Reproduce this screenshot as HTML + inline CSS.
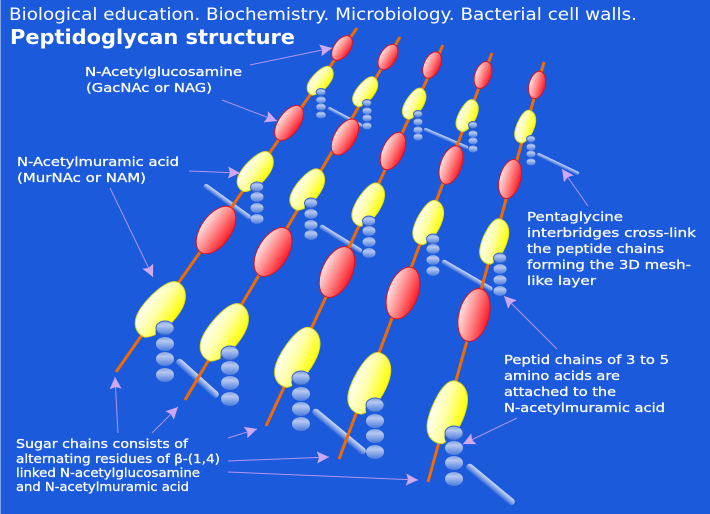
<!DOCTYPE html>
<html><head><meta charset="utf-8"><title>Peptidoglycan structure</title>
<style>
html,body{margin:0;padding:0;background:#1c5adc}
svg{display:block}
text{font-family:"DejaVu Sans","Liberation Sans",sans-serif;fill:#fff;stroke:#fff;stroke-width:.25px;font-size:12px}
.c{stroke:#f26a00;stroke-width:3;fill:none}
.y{fill:url(#gy);stroke:#dede20;stroke-width:1;vector-effect:non-scaling-stroke}
.r{fill:url(#gr);stroke:#e0101c;stroke-width:1}
.b{fill:url(#gb)}
.f{fill:url(#gb);stroke:#3566c8;stroke-width:1}
.n{fill:#1c5adc}
.a{stroke:#b394ec;stroke-width:1;fill:none;marker-end:url(#ah)}
.p{fill:url(#gp)}
</style></head><body>
<svg width="710" height="514" viewBox="0 0 710 514" xmlns="http://www.w3.org/2000/svg">
<defs>
<linearGradient id="gy" x1="0" y1="0" x2="1" y2="0"><stop offset="0" stop-color="#fffff2"/><stop offset=".45" stop-color="#ffffa8"/><stop offset="1" stop-color="#ffff00"/></linearGradient>
<linearGradient id="gr" x1="0" y1="0" x2="1" y2="0"><stop offset="0" stop-color="#ffe4e4"/><stop offset=".5" stop-color="#ff8484"/><stop offset="1" stop-color="#fa1c28"/></linearGradient>
<linearGradient id="gb" x1="0" y1="0" x2="0" y2="1"><stop offset="0" stop-color="#7f9fe2"/><stop offset=".3" stop-color="#b6c8f0"/><stop offset="1" stop-color="#4a7adc"/></linearGradient>
<linearGradient id="gp" x1="0" y1="0" x2="0" y2="1"><stop offset="0" stop-color="#d0dcf6"/><stop offset=".5" stop-color="#86a4e6"/><stop offset="1" stop-color="#2f66dc"/></linearGradient>
<marker id="ah" markerUnits="userSpaceOnUse" markerWidth="14" markerHeight="14" refX="12" refY="6.5" orient="auto"><path d="M0 0.500L12 6.500L0 12.500L2 6.500Z" fill="#cfa8f4"/></marker>
<path id="E" class="y" d="M0-33C10-33 17-24 17.500-10C18 6 13 24 3 31C-7 33-15 27-16.500 14C-18-2-12-33 0-33Z"/>
</defs>
<rect width="710" height="514" fill="#1c5adc"/>
<rect width="1" height="514" fill="#7fa3ea"/>

<!-- rods -->
<rect class="p" x="0" y="-3.500" width="61" height="7" rx="3.500" transform="translate(467 465) rotate(39.700)"/>
<rect class="p" x="0" y="-3.500" width="67.500" height="7" rx="3.500" transform="translate(313 410) rotate(39.600)"/>
<rect class="p" x="0" y="-3.500" width="55" height="7" rx="3.500" transform="translate(177 360) rotate(42)"/>
<rect class="p" x="0" y="-2.500" width="58" height="5" rx="2.500" transform="translate(442 261) rotate(30)"/>
<rect class="p" x="0" y="-2.500" width="49" height="5" rx="2.500" transform="translate(320 226) rotate(31.800)"/>
<rect class="p" x="0" y="-2.500" width="57" height="5" rx="2.500" transform="translate(204 185) rotate(35.700)"/>
<rect class="p" x="0" y="-1.800" width="46.500" height="3.600" rx="1.800" transform="translate(537 154) rotate(25.500)"/>
<rect class="p" x="0" y="-1.800" width="48" height="3.600" rx="1.800" transform="translate(424 129) rotate(23.400)"/>
<rect class="p" x="0" y="-1.800" width="38.500" height="3.600" rx="1.800" transform="translate(328 108) rotate(27.900)"/>

<!-- chains -->
<path class="c" d="M116 372L357 28"/>
<path class="c" d="M185 400L400 37"/>
<path class="c" d="M266 426L443 45"/>
<path class="c" d="M339 459L492 53"/>
<path class="c" d="M428 482L544 62"/>

<!-- chain 1 -->
<use href="#E" transform="translate(160 310) rotate(35)"/>
<ellipse class="r" cx="216" cy="230" rx="15" ry="27" transform="rotate(35 216 230)"/>
<use href="#E" transform="translate(255 172) rotate(35) scale(.72)"/>
<ellipse class="r" cx="289" cy="123" rx="10.500" ry="20" transform="rotate(35 289 123)"/>
<use href="#E" transform="translate(320 81) rotate(35) scale(.52)"/>
<ellipse class="r" cx="342" cy="48" rx="8" ry="14" transform="rotate(35 342 48)"/>
<!-- chain 2 -->
<use href="#E" transform="translate(224 333) rotate(31)"/>
<ellipse class="r" cx="273" cy="252" rx="15" ry="27" transform="rotate(31 273 252)"/>
<use href="#E" transform="translate(307 190) rotate(31) scale(.72)"/>
<ellipse class="r" cx="345" cy="137" rx="10.500" ry="20" transform="rotate(31 345 137)"/>
<use href="#E" transform="translate(365 92) rotate(31) scale(.52)"/>
<ellipse class="r" cx="388" cy="57" rx="8" ry="14" transform="rotate(31 388 57)"/>
<!-- chain 3 -->
<use href="#E" transform="translate(297 358) rotate(25)"/>
<ellipse class="r" cx="337" cy="272" rx="15" ry="27" transform="rotate(25 337 272)"/>
<use href="#E" transform="translate(368 205) rotate(25) scale(.72)"/>
<ellipse class="r" cx="393" cy="151" rx="10.500" ry="20" transform="rotate(25 393 151)"/>
<use href="#E" transform="translate(414 104) rotate(25) scale(.52)"/>
<ellipse class="r" cx="432" cy="65" rx="8" ry="14" transform="rotate(25 432 65)"/>
<!-- chain 4 -->
<use href="#E" transform="translate(369 384) rotate(20)"/>
<ellipse class="r" cx="403" cy="293" rx="15" ry="27" transform="rotate(20 403 293)"/>
<use href="#E" transform="translate(428 223) rotate(20) scale(.72)"/>
<ellipse class="r" cx="451" cy="165" rx="10.500" ry="20" transform="rotate(20 451 165)"/>
<use href="#E" transform="translate(467 116) rotate(20) scale(.52)"/>
<ellipse class="r" cx="483" cy="75" rx="8" ry="14" transform="rotate(20 483 75)"/>
<!-- chain 5 -->
<use href="#E" transform="translate(447 413) rotate(15)"/>
<ellipse class="r" cx="474" cy="315" rx="15" ry="27" transform="rotate(15 474 315)"/>
<use href="#E" transform="translate(494 242) rotate(15) scale(.72)"/>
<ellipse class="r" cx="510" cy="179" rx="10.500" ry="20" transform="rotate(15 510 179)"/>
<use href="#E" transform="translate(525 127) rotate(15) scale(.52)"/>
<ellipse class="r" cx="537" cy="85" rx="8" ry="14" transform="rotate(15 537 85)"/>

<!-- bites behind first beads -->
<ellipse class="n" cx="166" cy="332" rx="10.500" ry="9"/>
<ellipse class="n" cx="231" cy="357" rx="10.500" ry="9"/>
<ellipse class="n" cx="302" cy="382" rx="10.500" ry="9"/>
<ellipse class="n" cx="376" cy="409" rx="10.500" ry="9"/>
<ellipse class="n" cx="455" cy="437" rx="10.500" ry="9"/>
<ellipse class="n" cx="258" cy="190" rx="7.500" ry="6.500"/>
<ellipse class="n" cx="312" cy="206" rx="7.500" ry="6.500"/>
<ellipse class="n" cx="370" cy="224" rx="7.500" ry="6.500"/>
<ellipse class="n" cx="434" cy="242" rx="7.500" ry="6.500"/>
<ellipse class="n" cx="501" cy="261" rx="7.500" ry="6.500"/>
<ellipse class="n" cx="322" cy="94" rx="5.500" ry="4.500"/>
<ellipse class="n" cx="368" cy="105" rx="5.500" ry="4.500"/>
<ellipse class="n" cx="419" cy="116" rx="5.500" ry="4.500"/>
<ellipse class="n" cx="474" cy="127" rx="5.500" ry="4.500"/>
<ellipse class="n" cx="532" cy="141" rx="5.500" ry="4.500"/>

<!-- beads: big -->
<g>
<ellipse class="f" cx="165" cy="328" rx="9" ry="7"/><ellipse class="b" cx="165" cy="344" rx="9" ry="7"/><ellipse class="b" cx="165" cy="359" rx="9" ry="7"/><ellipse class="b" cx="165" cy="375" rx="9" ry="7"/>
<ellipse class="f" cx="230" cy="353" rx="9" ry="7"/><ellipse class="b" cx="230" cy="368" rx="9" ry="7"/><ellipse class="b" cx="230" cy="383" rx="9" ry="7"/><ellipse class="b" cx="230" cy="399" rx="9" ry="7"/>
<ellipse class="f" cx="301" cy="378" rx="9" ry="7"/><ellipse class="b" cx="301" cy="394" rx="9" ry="7"/><ellipse class="b" cx="301" cy="409" rx="9" ry="7"/><ellipse class="b" cx="301" cy="424" rx="9" ry="7"/>
<ellipse class="f" cx="375" cy="405" rx="9" ry="7"/><ellipse class="b" cx="375" cy="421" rx="9" ry="7"/><ellipse class="b" cx="375" cy="436" rx="9" ry="7"/><ellipse class="b" cx="375" cy="452" rx="9" ry="7"/>
<ellipse class="f" cx="454" cy="433" rx="9" ry="7"/><ellipse class="b" cx="454" cy="448" rx="9" ry="7"/><ellipse class="b" cx="454" cy="463" rx="9" ry="7"/><ellipse class="b" cx="454" cy="479" rx="9" ry="7"/>
</g>
<!-- beads: middle -->
<g>
<ellipse class="f" cx="257" cy="187" rx="6.500" ry="5"/><ellipse class="b" cx="257" cy="197" rx="6.500" ry="5"/><ellipse class="b" cx="257" cy="208" rx="6.500" ry="5"/><ellipse class="b" cx="257" cy="219" rx="6.500" ry="5"/>
<ellipse class="f" cx="311" cy="203" rx="6.500" ry="5"/><ellipse class="b" cx="311" cy="214" rx="6.500" ry="5"/><ellipse class="b" cx="311" cy="225" rx="6.500" ry="5"/><ellipse class="b" cx="311" cy="235" rx="6.500" ry="5"/>
<ellipse class="f" cx="369" cy="221" rx="6.500" ry="5"/><ellipse class="b" cx="369" cy="231" rx="6.500" ry="5"/><ellipse class="b" cx="369" cy="242" rx="6.500" ry="5"/><ellipse class="b" cx="369" cy="253" rx="6.500" ry="5"/>
<ellipse class="f" cx="433" cy="239" rx="6.500" ry="5"/><ellipse class="b" cx="433" cy="249" rx="6.500" ry="5"/><ellipse class="b" cx="433" cy="260" rx="6.500" ry="5"/><ellipse class="b" cx="433" cy="271" rx="6.500" ry="5"/>
<ellipse class="f" cx="500" cy="258" rx="6.500" ry="5"/><ellipse class="b" cx="500" cy="269" rx="6.500" ry="5"/><ellipse class="b" cx="500" cy="280" rx="6.500" ry="5"/><ellipse class="b" cx="500" cy="291" rx="6.500" ry="5"/>
</g>
<!-- beads: small -->
<g>
<ellipse class="f" cx="321" cy="92" rx="4.800" ry="3.500"/><ellipse class="b" cx="321" cy="100" rx="4.800" ry="3.500"/><ellipse class="b" cx="321" cy="107" rx="4.800" ry="3.500"/><ellipse class="b" cx="321" cy="115" rx="4.800" ry="3.500"/>
<ellipse class="f" cx="367" cy="103" rx="4.500" ry="3.500"/><ellipse class="b" cx="367" cy="111" rx="4.500" ry="3.500"/><ellipse class="b" cx="367" cy="118" rx="4.500" ry="3.500"/><ellipse class="b" cx="367" cy="126" rx="4.500" ry="3.500"/>
<ellipse class="f" cx="418" cy="114" rx="4.500" ry="3.500"/><ellipse class="b" cx="418" cy="122" rx="4.500" ry="3.500"/><ellipse class="b" cx="418" cy="130" rx="4.500" ry="3.500"/><ellipse class="b" cx="418" cy="137" rx="4.500" ry="3.500"/>
<ellipse class="f" cx="473" cy="125" rx="4.500" ry="3.500"/><ellipse class="b" cx="473" cy="134" rx="4.500" ry="3.500"/><ellipse class="b" cx="473" cy="141" rx="4.500" ry="3.500"/><ellipse class="b" cx="473" cy="149" rx="4.500" ry="3.500"/>
<ellipse class="f" cx="531" cy="139" rx="4.500" ry="3.500"/><ellipse class="b" cx="531" cy="147" rx="4.500" ry="3.500"/><ellipse class="b" cx="531" cy="154" rx="4.500" ry="3.500"/><ellipse class="b" cx="531" cy="162" rx="4.500" ry="3.500"/>
</g>

<!-- arrows -->
<path class="a" d="M250 65L332 48"/>
<path class="a" d="M222 100L277 121"/>
<path class="a" d="M189 171L240 173"/>
<path class="a" d="M110 188L153 277"/>
<path class="a" d="M118 433L115 377"/>
<path class="a" d="M152 433L178 407"/>
<path class="a" d="M228 438L257 429"/>
<path class="a" d="M228 461L329 457"/>
<path class="a" d="M228 472L418 480"/>
<path class="a" d="M588 206L562 169"/>
<path class="a" d="M557 349L504 296"/>
<path class="a" d="M517 418L463 444"/>

<!-- text -->
<text x="9" y="20" style="font-size:17px;stroke-width:0" textLength="628" lengthAdjust="spacingAndGlyphs">Biological education. Biochemistry. Microbiology. Bacterial cell walls.</text>
<text x="10" y="44" style="font-size:20px;font-weight:bold;stroke-width:0" textLength="285" lengthAdjust="spacingAndGlyphs">Peptidoglycan structure</text>

<text x="85" y="76" textLength="157" lengthAdjust="spacingAndGlyphs">N-Acetylglucosamine</text>
<text x="86" y="92" textLength="126" lengthAdjust="spacingAndGlyphs">(GacNAc or NAG)</text>
<text x="17" y="166" textLength="162" lengthAdjust="spacingAndGlyphs">N-Acetylmuramic acid</text>
<text x="17" y="182" textLength="129" lengthAdjust="spacingAndGlyphs">(MurNAc or NAM)</text>

<text x="527" y="221" textLength="96" lengthAdjust="spacingAndGlyphs">Pentaglycine</text>
<text x="527" y="237" textLength="169" lengthAdjust="spacingAndGlyphs">interbridges cross-link</text>
<text x="527" y="253" textLength="137" lengthAdjust="spacingAndGlyphs">the peptide chains</text>
<text x="527" y="269" textLength="164" lengthAdjust="spacingAndGlyphs">forming the 3D mesh-</text>
<text x="527" y="285" textLength="69" lengthAdjust="spacingAndGlyphs">like layer</text>

<text x="504" y="364" textLength="165" lengthAdjust="spacingAndGlyphs">Peptid chains of 3 to 5</text>
<text x="504" y="380" textLength="116" lengthAdjust="spacingAndGlyphs">amino acids are</text>
<text x="504" y="396" textLength="112" lengthAdjust="spacingAndGlyphs">attached to the</text>
<text x="504" y="412" textLength="161" lengthAdjust="spacingAndGlyphs">N-acetylmuramic acid</text>

<text x="16" y="448" textLength="172" lengthAdjust="spacingAndGlyphs">Sugar chains consists of</text>
<text x="16" y="463" textLength="204" lengthAdjust="spacingAndGlyphs">alternating residues of β-(1,4)</text>
<text x="16" y="477" textLength="184" lengthAdjust="spacingAndGlyphs">linked N-acetylglucosamine</text>
<text x="16" y="491" textLength="173" lengthAdjust="spacingAndGlyphs">and N-acetylmuramic acid</text>
</svg>
</body></html>
